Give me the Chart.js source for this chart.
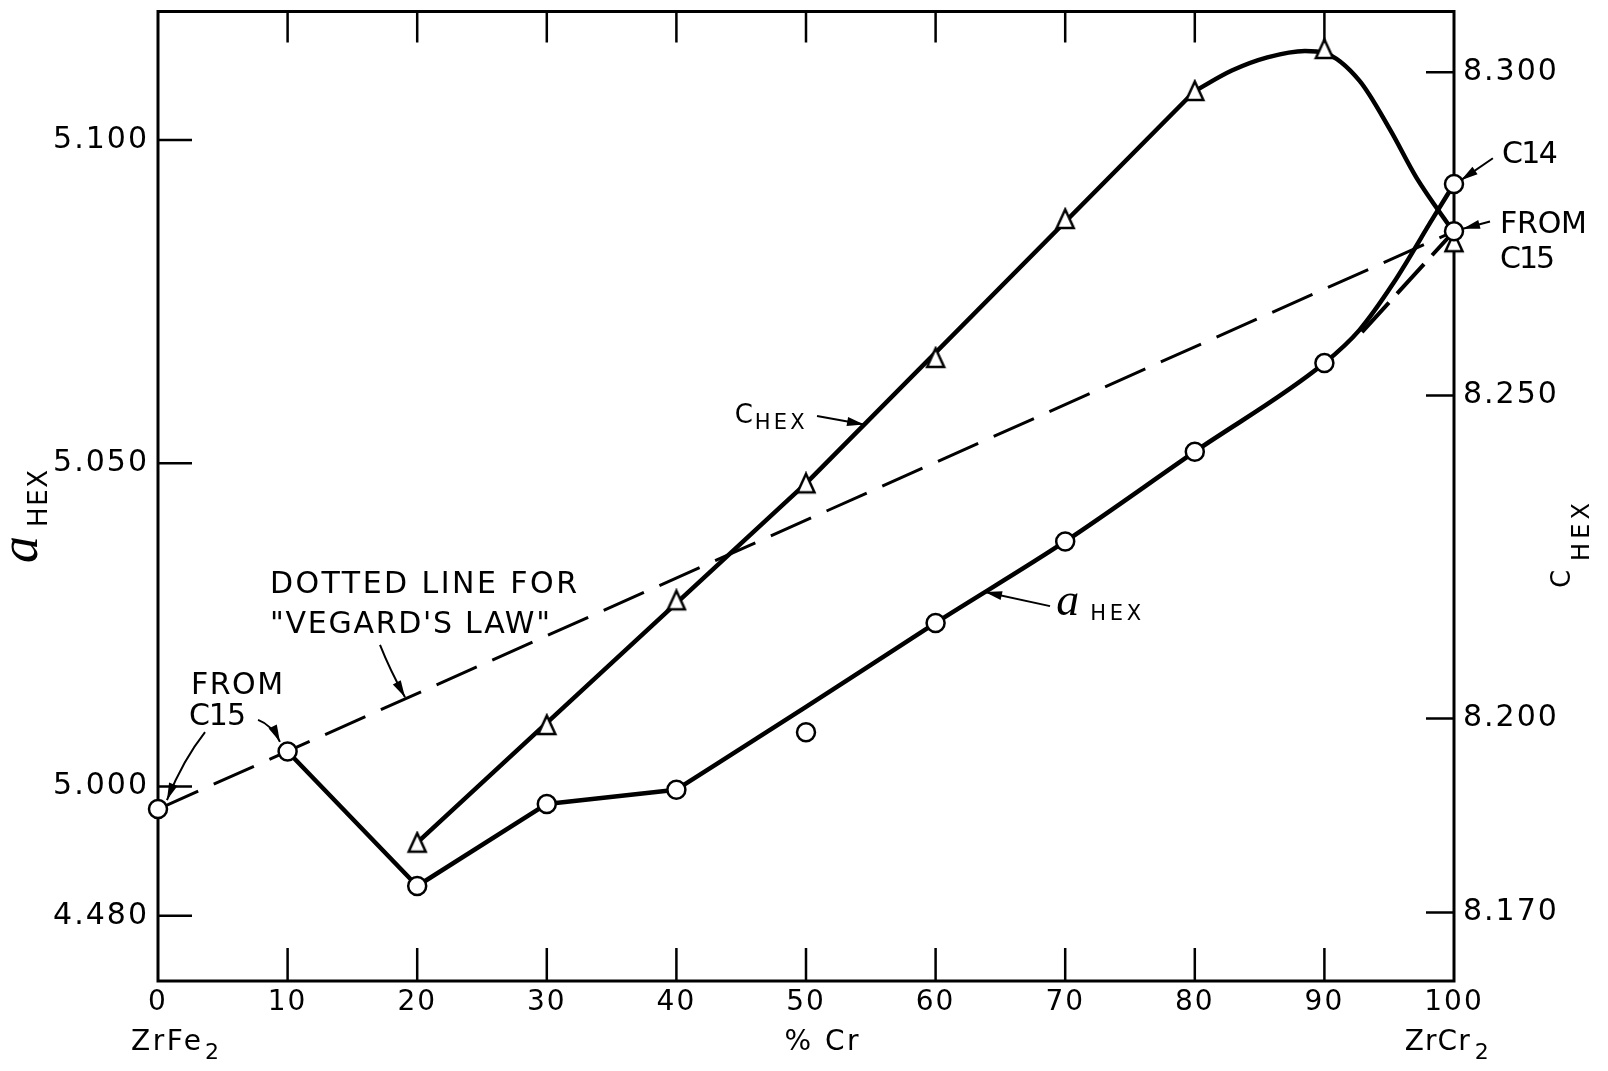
<!DOCTYPE html>
<html>
<head>
<meta charset="utf-8">
<title>Lattice parameters ZrFe2 - ZrCr2</title>
<script src="https://cdn.jsdelivr.net/npm/chart.js@4.4.1/dist/chart.umd.min.js"></script>
<style>
  html, body { margin: 0; padding: 0; background: #fff; }
  #wrap { width: 1608px; height: 1071px; }
</style>
</head>
<body>
<div id="wrap"><canvas id="lattice-chart" width="1608" height="1071"></canvas></div>
<script>
// composition, % Cr
var pctCr = [0, 10, 20, 30, 40, 50, 60, 70, 80, 90, 100];
// a_HEX measured (open circles), left axis
var aHexValues = [4.9965, 5.0054, 4.9846, 4.9973, 4.9995, 5.0084, 5.0253, 5.0379, 5.0518, 5.0655, 5.0932];
// a_HEX for ZrCr2 derived from C15
var aHexFromC15 = 5.0859;
// c_HEX measured (open triangles), right axis
var cHexPct = [20, 30, 40, 50, 60, 70, 80, 90, 100];
var cHexValues = [8.1808, 8.1990, 8.2183, 8.2364, 8.2558, 8.2773, 8.2971, 8.3036, 8.2737];

// the hand drawn curves
var aHexLowPct = [10, 20, 30, 40];
var aHexLowValues = [5.0054, 4.9846, 4.9973, 4.9995];
var aHexUpPct = [40, 50, 60, 70, 80, 90, 92.7, 95.3, 98.4, 100];
var aHexUpValues = [4.9995, 5.0123, 5.0253, 5.0379, 5.0518, 5.0655, 5.0706, 5.0778, 5.0880, 5.0932];
var aHexBranchPct = [92.9, 100];
var aHexBranchValues = [5.0703, 5.0859];
var cHexLinePct = [20, 50, 80];
var cHexLineValues = [8.1808, 8.2364, 8.2971];
var cHexCapPct = [80, 82.9, 85.6, 88.5, 90, 92.7, 95.1, 97.1, 100];
var cHexCapValues = [8.2971, 8.3003, 8.3023, 8.3033, 8.3030, 8.2987, 8.2910, 8.2837, 8.2752];
// "Vegard's law" line
var vegardPct = [0, 100];
var vegardValues = [4.9965, 5.0859];

// ticks
var xTicks = [0, 10, 20, 30, 40, 50, 60, 70, 80, 90, 100];
var aTicks = [4.98, 5.00, 5.05, 5.10];
var aTickLabels = ["4.480", "5.000", "5.050", "5.100"];
var cTicks = [8.17, 8.20, 8.25, 8.30];
var cTickLabels = ["8.170", "8.200", "8.250", "8.300"];

function pts(xs, ys) {
  return xs.map(function (x, i) { return { x: x, y: ys[i] }; });
}

// open triangle, a little taller than wide like the drafted one
function triangleMarker() {
  var c = document.createElement("canvas");
  c.width = 22;
  c.height = 24;
  var g = c.getContext("2d");
  g.beginPath();
  g.moveTo(11, 2.5);
  g.lineTo(19.5, 21);
  g.lineTo(2.5, 21);
  g.closePath();
  g.fillStyle = "#fff";
  g.fill();
  g.lineWidth = 2.5;
  g.strokeStyle = "#000";
  g.stroke();
  return c;
}

function fitText(ctx, text, x, y, font, width) {
  ctx.font = font;
  ctx.letterSpacing = "0px";
  if (width && text.length > 1) {
    var w = ctx.measureText(text).width;
    ctx.letterSpacing = ((width - w) / (text.length - 1)) + "px";
  }
  ctx.fillText(text, x, y);
  ctx.letterSpacing = "0px";
}

function arrow(ctx, p) {
  ctx.beginPath();
  ctx.moveTo(p[0][0], p[0][1]);
  if (p.length === 3) ctx.quadraticCurveTo(p[1][0], p[1][1], p[2][0], p[2][1]);
  else ctx.lineTo(p[1][0], p[1][1]);
  ctx.stroke();
  var a = p[p.length - 2], b = p[p.length - 1];
  var ang = Math.atan2(b[1] - a[1], b[0] - a[0]);
  var len = 17, half = 4.5;
  var c = Math.cos(ang), s = Math.sin(ang);
  ctx.beginPath();
  ctx.moveTo(b[0], b[1]);
  ctx.lineTo(b[0] - len * c + half * s, b[1] - len * s - half * c);
  ctx.lineTo(b[0] - len * c - half * s, b[1] - len * s + half * c);
  ctx.closePath();
  ctx.fill();
}

var sans = '"DejaVu Sans"';

var frameAndNotes = {
  id: "frameAndNotes",
  beforeDraw: function (chart) {
    var ctx = chart.ctx;
    ctx.save();
    ctx.fillStyle = "#fff";
    ctx.fillRect(0, 0, chart.width, chart.height);
    ctx.restore();
    ctx.letterSpacing = "2px";
  },
  beforeDatasetsDraw: function (chart) {
    var ctx = chart.ctx, ca = chart.chartArea;
    var xs = chart.scales.x, ys = chart.scales.y, cs = chart.scales.y1;
    ctx.save();
    ctx.strokeStyle = "#000";
    ctx.lineWidth = 3;
    ctx.strokeRect(ca.left, ca.top, ca.right - ca.left, ca.bottom - ca.top);
    ctx.lineWidth = 2.5;
    ctx.beginPath();
    xTicks.forEach(function (v) {
      if (v === 0 || v === 100) return;
      var x = xs.getPixelForValue(v);
      ctx.moveTo(x, ca.bottom); ctx.lineTo(x, ca.bottom - 33);
      ctx.moveTo(x, ca.top); ctx.lineTo(x, ca.top + 31);
    });
    aTicks.forEach(function (v) {
      var y = ys.getPixelForValue(v);
      ctx.moveTo(ca.left, y); ctx.lineTo(ca.left + 34, y);
    });
    cTicks.forEach(function (v) {
      var y = cs.getPixelForValue(v);
      ctx.moveTo(ca.right, y); ctx.lineTo(ca.right - 28, y);
    });
    ctx.stroke();
    ctx.restore();
  },
  afterDraw: function (chart) {
    var ctx = chart.ctx, ca = chart.chartArea;
    var xs = chart.scales.x, ys = chart.scales.y;
    function P(x, y) { return [xs.getPixelForValue(x), ys.getPixelForValue(y)]; }
    ctx.save();
    ctx.fillStyle = "#000";
    ctx.strokeStyle = "#000";
    ctx.textAlign = "left";
    ctx.textBaseline = "alphabetic";
    ctx.lineWidth = 2;

    // C_HEX label
    var p = P(44.5, 5.0563);
    fitText(ctx, "C", p[0], p[1], "26px " + sans);
    fitText(ctx, "HEX", p[0] + 20, p[1] + 6, "21px " + sans, 50);
    arrow(ctx, [P(50.85, 5.0573), P(54.48, 5.0560)]);

    // a_HEX label
    p = P(69.3, 5.0265);
    fitText(ctx, "a", p[0], p[1], 'italic 46px "Liberation Serif"');
    fitText(ctx, "HEX", p[0] + 34, p[1] + 5, "21px " + sans, 51);
    arrow(ctx, [P(68.83, 5.0279), P(63.81, 5.0301)]);

    // Vegard note
    p = P(8.64, 5.0299);
    fitText(ctx, "DOTTED LINE FOR", p[0], p[1], "30px " + sans, 307);
    p = P(8.64, 5.0237);
    fitText(ctx, "\"VEGARD'S LAW\"", p[0], p[1], "30px " + sans, 280);
    arrow(ctx, [P(17.13, 5.0219), P(17.9, 5.0180), P(19.06, 5.0138)]);

    // FROM C15 at ZrFe2 side
    p = P(2.55, 5.0143);
    fitText(ctx, "FROM", p[0], p[1], "30px " + sans, 92);
    p = P(2.39, 5.0095);
    fitText(ctx, "C15", p[0], p[1], "30px " + sans, 57);
    arrow(ctx, [P(3.63, 5.0084), P(1.93, 5.0041), P(0.69, 4.9979)]);
    arrow(ctx, [P(7.72, 5.0103), P(8.8, 5.0095), P(9.41, 5.0069)]);

    // C14 / FROM C15 at ZrCr2 side
    p = P(103.7, 5.0964);
    fitText(ctx, "C14", p[0], p[1], "30px " + sans, 56);
    arrow(ctx, [P(103.0, 5.0972), P(100.54, 5.0938)]);
    p = P(103.55, 5.0857);
    fitText(ctx, "FROM", p[0], p[1], "30px " + sans, 87);
    p = P(103.55, 5.0802);
    fitText(ctx, "C15", p[0], p[1], "30px " + sans, 55);
    arrow(ctx, [P(102.78, 5.0874), P(100.69, 5.0863)]);

    // x axis captions
    var xb = ca.bottom + 69;
    ctx.textAlign = "center";
    fitText(ctx, "% Cr", xs.getPixelForValue(51.3), xb, "28px " + sans, 74);
    ctx.textAlign = "left";
    var x0 = xs.getPixelForValue(-2.08);
    fitText(ctx, "ZrFe", x0, xb, "28px " + sans, 70);
    fitText(ctx, "2", x0 + 74, xb + 9, "22px " + sans);
    var x1 = xs.getPixelForValue(96.2);
    fitText(ctx, "ZrCr", x1, xb, "28px " + sans, 65);
    fitText(ctx, "2", x1 + 70, xb + 9, "22px " + sans);

    // left axis title
    ctx.save();
    ctx.translate(ca.left - 121, 563);
    ctx.rotate(-Math.PI / 2);
    fitText(ctx, "a", 0, 0, 'italic 54px "Liberation Serif"');
    fitText(ctx, "HEX", 36, 10, "26px " + sans, 57);
    ctx.restore();

    // right axis title
    ctx.save();
    ctx.translate(ca.right + 116, 588);
    ctx.rotate(-Math.PI / 2);
    fitText(ctx, "C", 0, 0, "26px " + sans);
    fitText(ctx, "HEX", 27, 19, "24px " + sans, 58);
    ctx.restore();

    ctx.restore();
  }
};

Chart.defaults.font.family = "DejaVu Sans";
Chart.defaults.color = "#000";

function noPad(scale) {
  scale.paddingTop = 0;
  scale.paddingBottom = 0;
  scale.paddingLeft = 0;
  scale.paddingRight = 0;
}

var lineStyle = {
  showLine: true,
  borderColor: "#000",
  borderWidth: 4.5,
  borderJoinStyle: "round",
  borderCapStyle: "round",
  pointRadius: 0,
};

var ctx = document.getElementById("lattice-chart").getContext("2d");
var chart = new Chart(ctx, {
  type: "scatter",
  data: {
    datasets: [
      {
        label: "a HEX",
        data: pts(pctCr, aHexValues).concat([{ x: 100, y: aHexFromC15 }]),
        yAxisID: "y",
        showLine: false,
        pointStyle: "circle",
        pointRadius: 9,
        pointBorderWidth: 2.5,
        pointBackgroundColor: "#fff",
        pointBorderColor: "#000",
        clip: false,
      },
      {
        label: "C HEX",
        data: pts(cHexPct, cHexValues),
        yAxisID: "y1",
        showLine: false,
        pointStyle: triangleMarker(),
        pointRadius: 10,
        clip: false,
      },
      Object.assign({
        label: "a HEX curve",
        data: pts(aHexUpPct, aHexUpValues),
        yAxisID: "y",
        cubicInterpolationMode: "monotone",
      }, lineStyle),
      Object.assign({
        label: "a HEX low",
        data: pts(aHexLowPct, aHexLowValues),
        yAxisID: "y",
      }, lineStyle),
      Object.assign({
        label: "a HEX from C15",
        data: pts(aHexBranchPct, aHexBranchValues),
        yAxisID: "y",
      }, lineStyle, { borderWidth: 4, borderDash: [40, 12], borderCapStyle: "butt" }),
      Object.assign({
        label: "C HEX line",
        data: pts(cHexLinePct, cHexLineValues),
        yAxisID: "y1",
      }, lineStyle),
      Object.assign({
        label: "C HEX cap",
        data: pts(cHexCapPct, cHexCapValues),
        yAxisID: "y1",
        cubicInterpolationMode: "monotone",
      }, lineStyle),
      Object.assign({
        label: "Vegard's law",
        data: pts(vegardPct, vegardValues),
        yAxisID: "y",
      }, lineStyle, { borderWidth: 3, borderDash: [44, 17], borderCapStyle: "butt" }),
    ],
  },
  options: {
    responsive: false,
    animation: false,
    devicePixelRatio: 1,
    layout: { padding: { top: 11, left: 0, right: 0, bottom: 0 } },
    scales: {
      x: {
        type: "linear",
        position: "bottom",
        min: 0,
        max: 100,
        grid: { display: false, drawTicks: false },
        border: { display: false },
        afterBuildTicks: function (scale) {
          scale.ticks = xTicks.map(function (v) { return { value: v }; });
        },
        afterFit: function (scale) { scale.height = 90; noPad(scale); },
        ticks: {
          font: { size: 28 },
          padding: 5,
          maxRotation: 0,
          autoSkip: false,
          callback: function (value) { return String(value); },
        },
      },
      y: {
        type: "linear",
        position: "left",
        min: 4.9699,
        max: 5.1199,
        grid: { display: false, drawTicks: false },
        border: { display: false },
        afterBuildTicks: function (scale) {
          scale.ticks = aTicks.map(function (v) { return { value: v }; });
        },
        afterFit: function (scale) { scale.width = 158; noPad(scale); },
        ticks: {
          font: { size: 30 },
          padding: 9,
          autoSkip: false,
          callback: function (value, index) { return aTickLabels[index]; },
        },
      },
      y1: {
        type: "linear",
        position: "right",
        min: 8.1594,
        max: 8.3094,
        grid: { display: false, drawTicks: false },
        border: { display: false },
        afterBuildTicks: function (scale) {
          scale.ticks = cTicks.map(function (v) { return { value: v }; });
        },
        afterFit: function (scale) { scale.width = 154; noPad(scale); },
        ticks: {
          font: { size: 30 },
          padding: 9,
          autoSkip: false,
          callback: function (value, index) { return cTickLabels[index]; },
        },
      },
    },
    plugins: {
      legend: { display: false },
      tooltip: { enabled: false },
    },
  },
  plugins: [frameAndNotes],
});
</script>
</body>
</html>
